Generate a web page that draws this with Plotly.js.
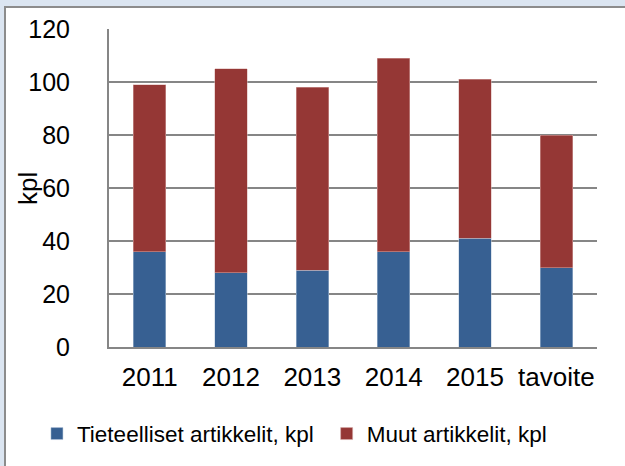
<!DOCTYPE html>
<html>
<head>
<meta charset="utf-8">
<script src="https://cdn.plot.ly/plotly-3.0.1.min.js"></script>
<style>
  html, body { margin: 0; padding: 0; }
  body { width: 625px; height: 466px; background: #dbe5f1; position: relative; overflow: hidden; }
  #frame { position: absolute; left: 4px; top: 6px; width: 621px; height: 460px;
           border-left: 2px solid #8c8c8c; border-top: 2px solid #8c8c8c; background: #ffffff; }
  #chart { width: 619px; height: 458px; }
</style>
</head>
<body>
<div id="frame"><div id="chart"></div></div>
<script>
const categories = ["2011", "2012", "2013", "2014", "2015", "tavoite"];
const scientific = [36, 28, 29, 36, 41, 30];
const other = [63, 77, 69, 73, 60, 50];
const seriesNames = ["Tieteelliset artikkelit, kpl", "Muut artikkelit, kpl"];
const yTicks = [0, 20, 40, 60, 80, 100, 120];
const yTitle = "kpl";

const FONT = "Liberation Sans, Arial, sans-serif";

const traces = [
  { type: "bar", x: categories, y: scientific, name: seriesNames[0], legend: "legend",
    marker: { color: "#376092", line: { color: "#b9c9dc", width: 0.5 } } },
  { type: "bar", x: categories, y: other, name: seriesNames[1], legend: "legend2",
    marker: { color: "#953735", line: { color: "#d9b0ae", width: 0.5 } } }
];

const legendBase = {
  orientation: "h",
  xref: "container", xanchor: "left",
  y: 0.07, yref: "container", yanchor: "middle",
  font: { family: FONT, size: 22.5, color: "#000000" },
  itemwidth: 30,
  bgcolor: "rgba(0,0,0,0)"
};

const layout = {
  width: 619, height: 458,
  barmode: "stack",
  bargap: 0.6,
  paper_bgcolor: "#ffffff",
  plot_bgcolor: "#ffffff",
  margin: { l: 103, r: 28, t: 21, b: 119 },
  font: { family: FONT, size: 26, color: "#000000" },
  showlegend: true,
  legend: Object.assign({}, legendBase, { x: 0.05 }),
  legend2: Object.assign({}, legendBase, { x: 0.518 }),
  xaxis: {
    type: "category",
    showline: true, linecolor: "#868686", linewidth: 2,
    ticks: "", showgrid: false,
    tickfont: { family: FONT, size: 26 },
    ticklabelstandoff: 6,
    fixedrange: true
  },
  yaxis: {
    range: [0, 120],
    tickvals: yTicks,
    ticktext: yTicks.map(String),
    showline: true, linecolor: "#868686", linewidth: 2,
    showgrid: true, gridcolor: "#868686", gridwidth: 2,
    zeroline: false,
    ticks: "",
    tickfont: { family: FONT, size: 25 },
    ticklabelstandoff: 32,
    fixedrange: true
  },
  annotations: [{
    text: yTitle, textangle: -90,
    xref: "paper", yref: "paper", x: -0.166, y: 0.5,
    xanchor: "center", yanchor: "middle", showarrow: false,
    font: { family: FONT, size: 26, color: "#000000" }
  }]
};

Plotly.newPlot("chart", traces, layout, { displayModeBar: false, staticPlot: true });
</script>
</body>
</html>
